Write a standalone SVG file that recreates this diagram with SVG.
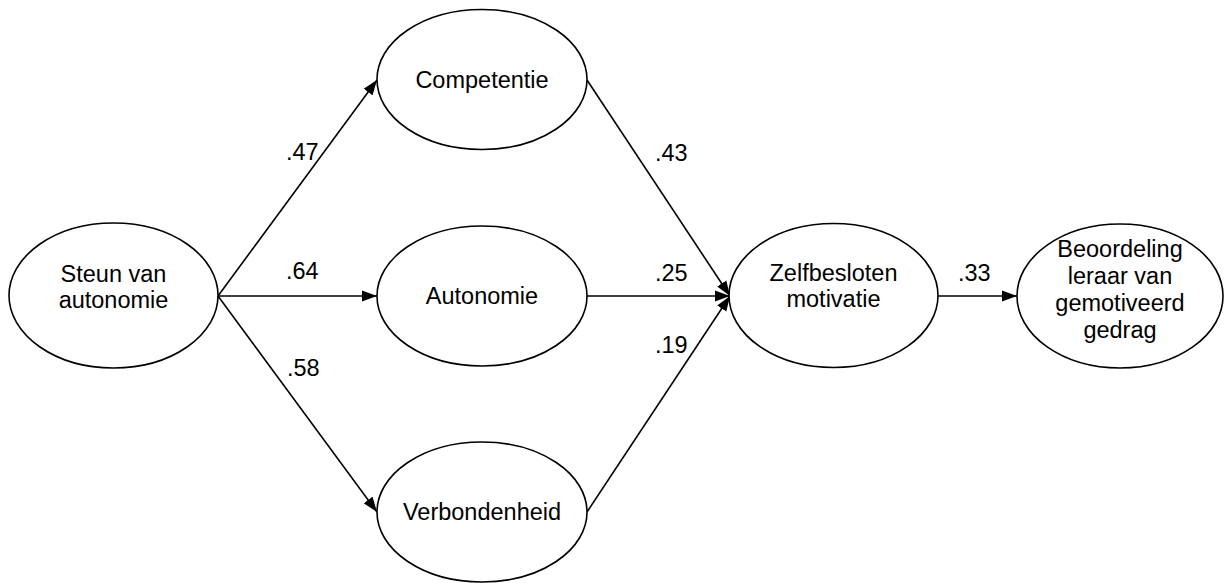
<svg xmlns="http://www.w3.org/2000/svg" width="1224" height="583" viewBox="0 0 1224 583">
<style>
.node ellipse{fill:#fff;stroke:#000;stroke-width:1.6}
text{font-family:"Liberation Sans",Arial,sans-serif;font-size:23.5px;fill:#000}
.c{text-anchor:middle}
.edges line{stroke:#000;stroke-width:1.6;marker-end:url(#arr)}
</style>
<defs>
<marker id="arr" markerUnits="userSpaceOnUse" markerWidth="16" markerHeight="12" refX="15" refY="6" orient="auto">
<path d="M0,0.5 L15,6 L0,11.5 z" fill="#000"/>
</marker>
</defs>
<rect width="1224" height="583" fill="#fff"/>
<g class="edges" id="connectors">
<line x1="218" y1="296" x2="377" y2="80"/>
<line x1="218" y1="296" x2="377" y2="296"/>
<line x1="218" y1="296" x2="377" y2="512"/>
<line x1="587" y1="80" x2="730" y2="296"/>
<line x1="587" y1="296" x2="730" y2="296"/>
<line x1="587" y1="512" x2="730" y2="296"/>
<line x1="938" y1="296" x2="1017" y2="296"/>
</g>
<g id="labels">
<text x="286" y="160">.47</text>
<text x="286" y="279">.64</text>
<text x="287" y="376">.58</text>
<text x="655" y="161">.43</text>
<text x="655" y="281">.25</text>
<text x="655" y="353">.19</text>
<text x="958" y="281">.33</text>
</g>
<g class="node" id="steun">
<ellipse cx="113.5" cy="295.5" rx="104.5" ry="72.5"/>
<text class="c" x="113.5" y="282">Steun van</text>
<text class="c" x="113.5" y="308">autonomie</text>
</g>
<g class="node" id="competentie">
<ellipse cx="482" cy="79.5" rx="105" ry="70"/>
<text class="c" x="482" y="88">Competentie</text>
</g>
<g class="node" id="autonomie">
<ellipse cx="482" cy="296" rx="105" ry="70"/>
<text class="c" x="482" y="304">Autonomie</text>
</g>
<g class="node" id="verbondenheid">
<ellipse cx="482" cy="512" rx="105" ry="70"/>
<text class="c" x="482" y="520">Verbondenheid</text>
</g>
<g class="node" id="zelfbesloten">
<ellipse cx="833.5" cy="295.5" rx="104.5" ry="72"/>
<text class="c" x="833.5" y="281">Zelfbesloten</text>
<text class="c" x="833.5" y="307">motivatie</text>
</g>
<g class="node" id="beoordeling">
<ellipse cx="1120" cy="296" rx="103" ry="72"/>
<text class="c" x="1120" y="257">Beoordeling</text>
<text class="c" x="1120" y="284">leraar van</text>
<text class="c" x="1120" y="311">gemotiveerd</text>
<text class="c" x="1120" y="338">gedrag</text>
</g>
</svg>
